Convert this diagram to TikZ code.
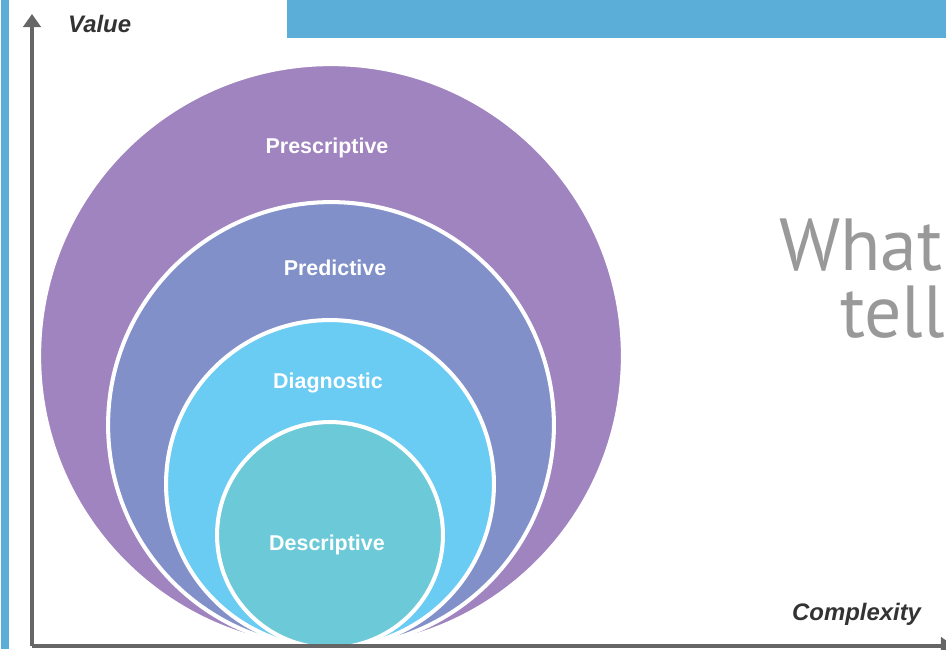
\documentclass[tikz,border=0pt]{standalone}
\usepackage{fontspec}
\setmainfont{Liberation Sans}
\newfontfamily\titlefont{PT Sans}
\usetikzlibrary{arrows.meta}
\definecolor{barBlue}{HTML}{5BAED8}
\definecolor{prescColor}{HTML}{A084BF}
\definecolor{predColor}{HTML}{8190C8}
\definecolor{diagColor}{HTML}{6ACBF3}
\definecolor{descColor}{HTML}{6CC9D7}
\definecolor{axisGray}{HTML}{666666}
\definecolor{textDark}{HTML}{333333}
\definecolor{titleGray}{HTML}{999999}
\tikzset{
	ring/.style={circle, draw=white, line width=2.3pt, inner sep=0pt},
	ringLabel/.style={anchor=base, text=white, font=\fontsize{12.2}{14}\selectfont\bfseries},
	axisLabel/.style={anchor=base west, text=textDark, font=\fontsize{13.6}{16}\selectfont\bfseries\itshape},
	axis/.style={draw=axisGray, line width=2pt, -{Triangle[length=7.5pt,width=10pt]}},
	titleText/.style={anchor=base west, text=titleGray, font=\titlefont\fontsize{42}{48}\selectfont}
}
\newcommand{\drawRing}[4]{
	\node[ring, fill=#4, minimum size=#3*0.04cm] (#1) at (#2) {};
}

\begin{document}
\begin{tikzpicture}[x=0.02cm, y=-0.02cm]
		\useasboundingbox (0,0) rectangle (946,649);
		% frame
		\fill[barBlue] (287,0) rectangle (946,38);
		\fill[barBlue] (1,0) rectangle (9,649);

		\coordinate (C1) at (331,356);
		\coordinate (C2) at (331,425);
		\coordinate (C3) at (330,484);
		\coordinate (C4) at (330,535);

		\drawRing{presc}{C1}{292}{prescColor}
		\drawRing{pred}{C2}{223}{predColor}
		\drawRing{diag}{C3}{164}{diagColor}
		\drawRing{desc}{C4}{113}{descColor}

		\node[ringLabel] (prescLabel) at (327,153) {Prescriptive};
		\node[ringLabel] (predLabel) at (335,275) {Predictive};
		\node[ringLabel] (diagLabel) at (328,388) {Diagnostic};
		\node[ringLabel] (descLabel) at (327,550) {Descriptive};

		% axes
		\coordinate (origin) at (32,646);
		\coordinate (yEnd) at (32,14);
		\coordinate (xEnd) at (954,646);
		\draw[axis] (origin) -- (yEnd);
		\draw[axis] (origin) -- (xEnd);
		\node[axisLabel] (valueLabel) at (62,32) {Value};
		\node[axisLabel] (complexLabel) at (786,620) {Complexity};

		\node[titleText] (titleA) at (773,270) {What};
		\node[titleText] (titleB) at (834,337) {tell};
	\end{tikzpicture}
\end{document}
